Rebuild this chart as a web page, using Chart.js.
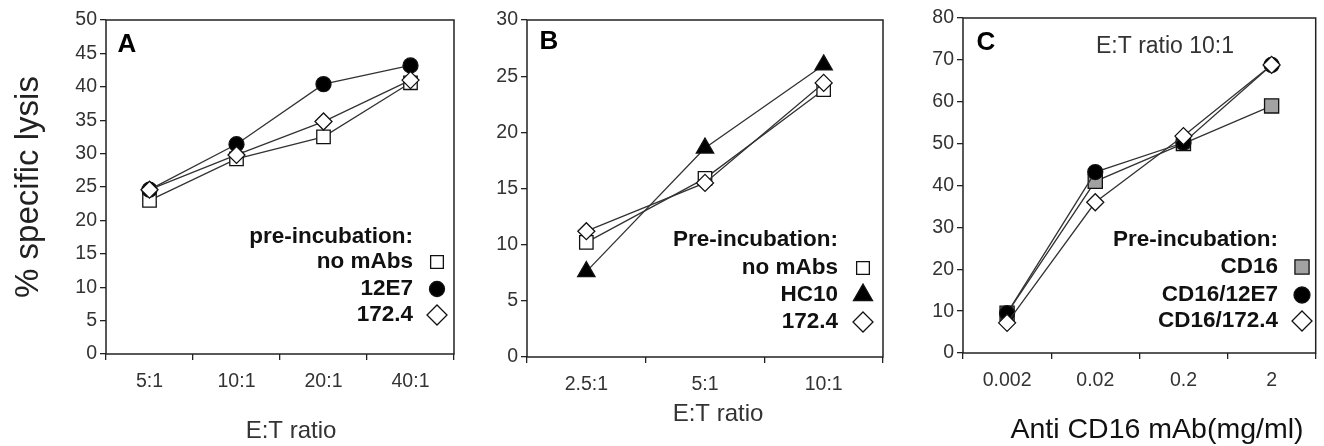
<!DOCTYPE html>
<html><head><meta charset="utf-8">
<script src="https://cdn.jsdelivr.net/npm/chart.js@4.4.1/dist/chart.umd.min.js"></script>
<style>
html,body{margin:0;padding:0;background:#fff;overflow:hidden;width:1324px;height:446px;}
.p{position:absolute;top:0;height:446px;}
canvas{display:block;}
</style></head><body>
<div class="p" style="left:0px;width:465px"><canvas id="ca" width="465" height="446" style="width:465px;height:446px"></canvas></div>
<div class="p" style="left:465px;width:430px"><canvas id="cb" width="430" height="446" style="width:430px;height:446px"></canvas></div>
<div class="p" style="left:895px;width:432px"><canvas id="cc" width="432" height="446" style="width:432px;height:446px"></canvas></div>
<script>
// ---- data ----
const catsA = ['5:1', '10:1', '20:1', '40:1'];
const noMAbsA = [23, 29.2, 32.5, 40.6];
const e12E7A = [24.6, 31.4, 40.4, 43.2];
const d1724A = [24.6, 29.8, 34.8, 41];
const namesA = ['no mAbs', '12E7', '172.4'];

const catsB = ['2.5:1', '5:1', '10:1'];
const noMAbsB = [10.2, 15.9, 23.8];
const hc10B = [7.6, 18.6, 26];
const d1724B = [11.2, 15.5, 24.4];
const namesB = ['no mAbs', 'HC10', '172.4'];

const catsC = ['0.002', '0.02', '0.2', '2'];
const cd16C = [9.5, 41, 50, 59];
const cd16e12C = [9.5, 43.2, 50.2, 68.8];
const cd16d1724C = [7.2, 36, 51.8, 68.8];
const namesC = ['CD16', 'CD16/12E7', 'CD16/172.4'];

const yMaxA = 50, yStepA = 5;
const yMaxB = 30, yStepB = 5;
const yMaxC = 80, yStepC = 10;

// ---- styles ----
const FONT = "'Liberation Sans', Arial, sans-serif";
const LINE = '#333';
const EDGE = '#111';
const styles = {
  square: {pointStyle: 'rect', radius: 9.5, fill: '#fff'},
  circle: {pointStyle: 'circle', radius: 7.5, fill: '#000'},
  diamond: {pointStyle: 'rectRot', radius: 8.5, fill: '#fff'},
  triangle: {pointStyle: 'triangle', radius: 10, fill: '#000'},
  graysq: {pointStyle: 'rect', radius: 10, fill: '#a2a2a2'}
};

function ds(label, data, st, order) {
  const s = styles[st];
  return {
    label, data, order,
    borderColor: LINE, borderWidth: 1.3, tension: 0, fill: false,
    pointStyle: s.pointStyle, pointRadius: s.radius, pointHoverRadius: s.radius,
    pointBackgroundColor: s.fill, pointBorderColor: EDGE, pointBorderWidth: 1.3,
    _st: st
  };
}

function marker(ctx, st, x, y, r) {
  const s = styles[st];
  ctx.save();
  ctx.fillStyle = s.fill; ctx.strokeStyle = EDGE; ctx.lineWidth = 1.3;
  ctx.beginPath();
  if (st === 'square' || st === 'graysq') {
    const h = r * Math.SQRT1_2; ctx.rect(x - h, y - h, 2 * h, 2 * h);
  } else if (st === 'circle') {
    ctx.arc(x, y, r, 0, Math.PI * 2);
  } else if (st === 'diamond') {
    ctx.moveTo(x, y - r); ctx.lineTo(x + r, y); ctx.lineTo(x, y + r); ctx.lineTo(x - r, y); ctx.closePath();
  } else if (st === 'triangle') {
    ctx.moveTo(x, y - r); ctx.lineTo(x + r * 0.866, y + r / 2); ctx.lineTo(x - r * 0.866, y + r / 2); ctx.closePath();
  }
  ctx.fill(); ctx.stroke();
  ctx.restore();
}

function makePanel(id, p) {
  const ctx = document.getElementById(id);
  const W = p.width, H = 446;
  const decor = {
    id: 'decor',
    beforeDatasetsDraw(chart) {
      const a = chart.chartArea, c = chart.ctx;
      c.save(); c.strokeStyle = '#222'; c.lineWidth = 1.5;
      c.strokeRect(a.left, a.top, a.right - a.left, a.bottom - a.top);
      c.restore();
    },
    afterDraw(chart) {
      const c = chart.ctx;
      c.save();
      c.textAlign = 'center'; c.textBaseline = 'middle';
      c.fillStyle = '#000'; c.font = 'bold 26px ' + FONT;
      c.fillText(p.letter, p.letterX, p.letterY);
      if (p.note) {
        c.fillStyle = '#333'; c.font = '23px ' + FONT;
        c.fillText(p.note, p.noteX, p.noteY);
      }
      c.fillStyle = p.xTitleColor; c.font = p.xTitleFont + 'px ' + FONT;
      c.fillText(p.xTitle, p.xTitleX, p.xTitleY);
      // legend
      c.textAlign = 'right'; c.fillStyle = '#111'; c.font = 'bold 22.5px ' + FONT;
      c.fillText(p.legendHead, p.legX, p.legY[0]);
      chart.data.datasets.forEach((d, i) => {
        c.fillStyle = '#111';
        c.fillText(d.label, p.legX, p.legY[i + 1]);
        marker(c, d._st, p.markX, p.legY[i + 1], p.legR[i]);
      });
      c.restore();
    }
  };
  return new Chart(ctx, {
    type: 'line',
    data: {labels: p.labels, datasets: p.datasets},
    options: {
      responsive: false, animation: false, devicePixelRatio: 1,
      layout: {padding: {left: 0, top: p.top, right: W - p.right, bottom: 0}},
      plugins: {legend: {display: false}, tooltip: {enabled: false}},
      scales: {
        x: {
          type: 'category', offset: true,
          grid: {offset: true, drawOnChartArea: false, drawTicks: true, tickLength: 6, color: '#222', lineWidth: 1.3},
          border: {display: false},
          ticks: {padding: 10, color: '#333', font: {family: FONT, size: 19.5}, maxRotation: 0, autoSkip: false},
          afterFit(s) { s.height = H - p.bottom; }
        },
        y: {
          type: 'linear', min: 0, max: p.ymax,
          grid: {drawOnChartArea: false, drawTicks: true, tickLength: 6, color: '#222', lineWidth: 1.3},
          border: {display: false},
          ticks: {stepSize: p.step, padding: 3, color: '#333', font: {family: FONT, size: 19.5}},
          title: p.yTitle ? {display: true, text: p.yTitle, color: '#222', font: {family: FONT, size: 33}, padding: {top: 9, bottom: 0}} : {display: false},
          afterFit(s) { s.width = p.left; }
        }
      }
    },
    plugins: [decor]
  });
}

makePanel('ca', {
  width: 465, left: 106, right: 454, top: 20, bottom: 354,
  labels: catsA, ymax: yMaxA, step: yStepA, yTitle: '% specific lysis',
  datasets: [ds(namesA[0], noMAbsA, 'square', 3), ds(namesA[1], e12E7A, 'circle', 2), ds(namesA[2], d1724A, 'diamond', 1)],
  letter: 'A', letterX: 127, letterY: 45,
  xTitle: 'E:T ratio', xTitleX: 291, xTitleY: 431, xTitleFont: 24, xTitleColor: '#333',
  legendHead: 'pre-incubation:', legX: 413, markX: 437, legY: [237, 262, 289, 315], legR: [9, 7.5, 10]
});
makePanel('cb', {
  width: 430, left: 62, right: 418, top: 20, bottom: 357,
  labels: catsB, ymax: yMaxB, step: yStepB,
  datasets: [ds(namesB[0], noMAbsB, 'square', 3), ds(namesB[1], hc10B, 'triangle', 2), ds(namesB[2], d1724B, 'diamond', 1)],
  letter: 'B', letterX: 84, letterY: 42,
  xTitle: 'E:T ratio', xTitleX: 253, xTitleY: 414, xTitleFont: 24, xTitleColor: '#333',
  legendHead: 'Pre-incubation:', legX: 373, markX: 398, legY: [240, 268, 295, 322], legR: [9, 11, 10]
});
makePanel('cc', {
  width: 432, left: 68, right: 430, top: 18, bottom: 353,
  labels: catsC, ymax: yMaxC, step: yStepC,
  datasets: [ds(namesC[0], cd16C, 'graysq', 3), ds(namesC[1], cd16e12C, 'circle', 2), ds(namesC[2], cd16d1724C, 'diamond', 1)],
  letter: 'C', letterX: 91, letterY: 43,
  note: 'E:T ratio 10:1', noteX: 270, noteY: 47,
  xTitle: 'Anti CD16 mAb(mg/ml)', xTitleX: 262, xTitleY: 430, xTitleFont: 28.5, xTitleColor: '#111',
  legendHead: 'Pre-incubation:', legX: 383, markX: 407, legY: [240, 267, 295, 321], legR: [10, 8, 10]
});
</script>
</body></html>
